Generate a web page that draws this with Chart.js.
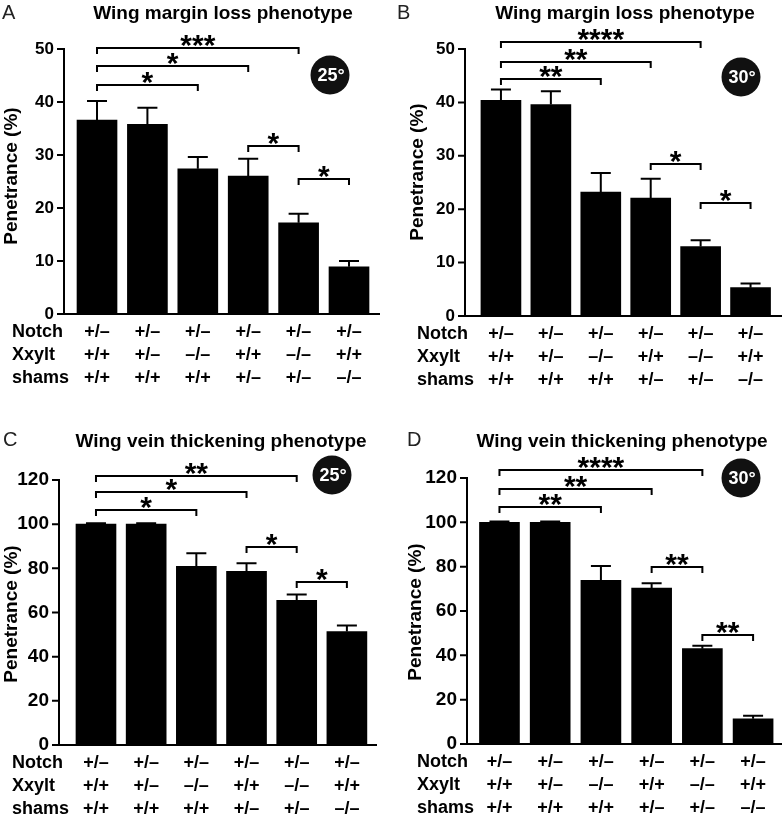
<!DOCTYPE html>
<html>
<head>
<meta charset="utf-8">
<script src="https://cdn.jsdelivr.net/npm/chart.js@4"></script>
<style>
  body { margin: 0; background: #fff; }
  #fig { position: relative; width: 784px; height: 817px; overflow: hidden; }
  .panel { position: absolute; }
</style>
</head>
<body>
<div id="fig">
  <div class="panel" style="left:0;top:0"><canvas id="cA" width="392" height="408"></canvas></div>
  <div class="panel" style="left:392px;top:0"><canvas id="cB" width="392" height="408"></canvas></div>
  <div class="panel" style="left:0;top:408px"><canvas id="cC" width="392" height="409"></canvas></div>
  <div class="panel" style="left:392px;top:408px"><canvas id="cD" width="392" height="409"></canvas></div>
</div>
<script>
// genotypes under each bar
const rowNames = ['Notch', 'Xxylt', 'shams'];
const notch = ['+/–', '+/–', '+/–', '+/–', '+/–', '+/–'];
const xxylt = ['+/+', '+/–', '–/–', '+/+', '–/–', '+/+'];
const shams = ['+/+', '+/+', '+/+', '+/–', '+/–', '–/–'];

// penetrance (%) and error
const marginLoss25 = [36.6, 35.8, 27.4, 26.0, 17.2, 8.9];
const marginLoss25Err = [3.6, 3.1, 2.2, 3.3, 1.7, 1.1];
const marginLoss30 = [40.4, 39.6, 23.2, 22.1, 13.0, 5.3];
const marginLoss30Err = [2.0, 2.5, 3.6, 3.6, 1.2, 0.8];
const veinThick25 = [100, 100, 80.9, 78.6, 65.5, 51.4];
const veinThick25Err = [0.4, 0.4, 5.9, 3.7, 2.7, 2.7];
const veinThick30 = [100, 100, 73.8, 70.3, 43.0, 11.4];
const veinThick30Err = [0.4, 0.4, 6.5, 2.2, 1.3, 1.4];

// significance: [from bar, to bar, height, stars]
const sigLoss25 = [[0, 4, 50.1, '***'], [0, 3, 46.8, '*'], [0, 2, 43.2, '*'], [3, 4, 31.7, '*'], [4, 5, 25.5, '*']];
const sigLoss30 = [[0, 4, 51.3, '****'], [0, 3, 47.5, '**'], [0, 2, 44.3, '**'], [3, 4, 28.5, '*'], [4, 5, 21.1, '*']];
const sigVein25 = [[0, 4, 121.8, '**'], [0, 3, 114.5, '*'], [0, 2, 106.4, '*'], [3, 4, 89.5, '*'], [4, 5, 73.6, '*']];
const sigVein30 = [[0, 4, 123.6, '****'], [0, 3, 115, '**'], [0, 2, 106.8, '**'], [3, 4, 80, '**'], [4, 5, 49, '**']];

const ticksLoss = [0, 10, 20, 30, 40, 50];
const ticksVein = [0, 20, 40, 60, 80, 100, 120];

const FONT = "'Liberation Sans', Arial, Helvetica, sans-serif";

const panels = [
  { id: 'cA', letter: 'A', title: 'Wing margin loss phenotype', temp: '25°', values: marginLoss25, errors: marginLoss25Err, sig: sigLoss25, ticks: ticksLoss,
    W: 392, H: 408, axisX: 64, right: 380, y0: 314, yTop: 49, yMax: 54, xMin: -0.655, xMax: 5.615,
    titleX: 223, titleY: 14, letterX: 2, letterY: 13, yTitleX: 12, yTitleY: 176, badgeX: 330, badgeY: 75, rowX: 12, tickSize: 17 },
  { id: 'cB', letter: 'B', title: 'Wing margin loss phenotype', temp: '30°', values: marginLoss30, errors: marginLoss30Err, sig: sigLoss30, ticks: ticksLoss,
    W: 392, H: 408, axisX: 73, right: 390, y0: 316, yTop: 49, yMax: 54, xMin: -0.72, xMax: 5.63,
    titleX: 233, titleY: 14, letterX: 5, letterY: 13, yTitleX: 26, yTitleY: 172, badgeX: 349, badgeY: 77, rowX: 25, tickSize: 17 },
  { id: 'cC', letter: 'C', title: 'Wing vein thickening phenotype', temp: '25°', values: veinThick25, errors: veinThick25Err, sig: sigVein25, ticks: ticksVein,
    W: 392, H: 409, axisX: 59, right: 377, y0: 337, yTop: 72, yMax: 130, xMin: -0.737, xMax: 5.6,
    titleX: 221, titleY: 34, letterX: 3, letterY: 32, yTitleX: 12, yTitleY: 206, badgeX: 332, badgeY: 67, rowX: 12, tickSize: 19 },
  { id: 'cD', letter: 'D', title: 'Wing vein thickening phenotype', temp: '30°', values: veinThick30, errors: veinThick30Err, sig: sigVein30, ticks: ticksVein,
    W: 392, H: 409, axisX: 75, right: 390, y0: 336, yTop: 70, yMax: 130, xMin: -0.64, xMax: 5.57,
    titleX: 230, titleY: 34, letterX: 15, letterY: 32, yTitleX: 24, yTitleY: 204, badgeX: 349, badgeY: 70, rowX: 25, tickSize: 19 }
];

const ROW_PAD = 7, ROW_H = 23;

function panelPlugin(p) {
  return {
    id: 'deco' + p.letter,
    afterDraw(chart) {
      const ctx = chart.ctx, xs = chart.scales.x, ys = chart.scales.y, a = chart.chartArea;
      const axisMax = p.ticks[p.ticks.length - 1];
      ctx.save();
      ctx.strokeStyle = '#000'; ctx.fillStyle = '#000'; ctx.lineWidth = 2; ctx.lineCap = 'butt';

      // error bars (upper only)
      p.values.forEach((v, i) => {
        const cx = xs.getPixelForValue(i);
        const top = ys.getPixelForValue(v + p.errors[i]);
        const base = ys.getPixelForValue(v);
        ctx.beginPath();
        ctx.moveTo(cx, base); ctx.lineTo(cx, top);
        ctx.moveTo(cx - 10, top); ctx.lineTo(cx + 10, top);
        ctx.stroke();
      });

      // axes
      const y0 = ys.getPixelForValue(0), yTop = ys.getPixelForValue(axisMax);
      ctx.beginPath();
      ctx.moveTo(a.left, yTop - 1); ctx.lineTo(a.left, y0); ctx.lineTo(a.right, y0);
      p.ticks.forEach(t => { const py = ys.getPixelForValue(t); ctx.moveTo(a.left - 7, py); ctx.lineTo(a.left, py); });
      ctx.stroke();

      // significance brackets
      ctx.textAlign = 'center'; ctx.textBaseline = 'alphabetic';
      ctx.font = 'bold 30px ' + FONT;
      p.sig.forEach(([i, j, h, s]) => {
        const x1 = xs.getPixelForValue(i), x2 = xs.getPixelForValue(j), py = Math.round(ys.getPixelForValue(h));
        ctx.beginPath();
        ctx.moveTo(x1, py + 6); ctx.lineTo(x1, py); ctx.lineTo(x2, py); ctx.lineTo(x2, py + 6);
        ctx.stroke();
        ctx.fillText(s, (x1 + x2) / 2, py + 7);
      });

      // genotype row names
      ctx.textAlign = 'left'; ctx.textBaseline = 'middle';
      ctx.font = 'bold 18px ' + FONT;
      rowNames.forEach((r, k) => ctx.fillText(r, p.rowX, y0 + ROW_PAD + ROW_H * (k + 0.5)));

      // title and panel letter
      ctx.textAlign = 'center';
      ctx.font = 'bold 19px ' + FONT;
      ctx.fillText(p.title, p.titleX, p.titleY);
      ctx.textAlign = 'left';
      ctx.font = '20px ' + FONT;
      ctx.fillStyle = '#222';
      ctx.fillText(p.letter, p.letterX, p.letterY);
      ctx.fillStyle = '#000';

      // y axis title
      ctx.save();
      ctx.translate(p.yTitleX, p.yTitleY);
      ctx.rotate(-Math.PI / 2);
      ctx.textAlign = 'center';
      ctx.font = 'bold 19px ' + FONT;
      ctx.fillText('Penetrance (%)', 0, 0);
      ctx.restore();

      // temperature badge
      ctx.beginPath();
      ctx.arc(p.badgeX, p.badgeY, 19.5, 0, Math.PI * 2);
      ctx.fillStyle = '#111';
      ctx.fill();
      ctx.fillStyle = '#fff';
      ctx.textAlign = 'center';
      ctx.font = 'bold 18px ' + FONT;
      ctx.fillText(p.temp, p.badgeX + 1, p.badgeY + 1);

      ctx.restore();
    }
  };
}

panels.forEach(p => {
  const axisMax = p.ticks[p.ticks.length - 1];
  const padTop = p.y0 - (p.y0 - p.yTop) * p.yMax / axisMax;
  new Chart(document.getElementById(p.id), {
    type: 'bar',
    data: {
      datasets: [{
        data: p.values.map((v, i) => ({ x: i, y: v })),
        backgroundColor: '#000',
        barThickness: 40
      }]
    },
    options: {
      responsive: false,
      animation: false,
      layout: { padding: { top: padTop, right: p.W - p.right, left: 0, bottom: 0 } },
      plugins: { legend: { display: false }, tooltip: { enabled: false } },
      scales: {
        x: {
          type: 'linear', min: p.xMin, max: p.xMax, offset: false,
          grid: { display: false, drawTicks: false }, border: { display: false },
          afterBuildTicks: s => { s.ticks = notch.map((_, i) => ({ value: i })); },
          afterFit: s => { s.height = p.H - p.y0; },
          ticks: {
            autoSkip: false, maxRotation: 0, padding: ROW_PAD, color: '#000',
            font: { family: FONT, size: 18, weight: 'bold', lineHeight: ROW_H / 18 },
            callback: v => [notch[v], xxylt[v], shams[v]]
          }
        },
        y: {
          min: 0, max: p.yMax,
          grid: { display: false, drawTicks: false }, border: { display: false },
          afterBuildTicks: s => { s.ticks = p.ticks.map(v => ({ value: v })); },
          afterFit: s => { s.width = p.axisX; },
          ticks: { padding: 10, color: '#000', font: { family: FONT, size: p.tickSize, weight: 'bold' } }
        }
      }
    },
    plugins: [panelPlugin(p)]
  });
});
</script>
</body>
</html>
